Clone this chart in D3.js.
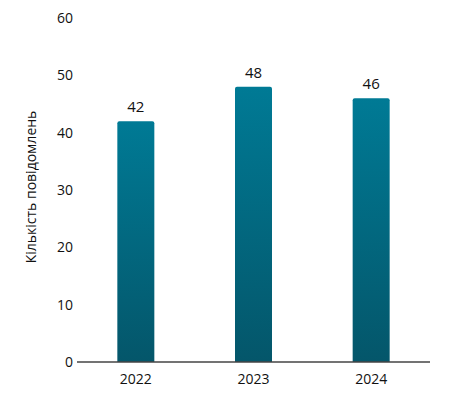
<!DOCTYPE html>
<html>
<head>
<meta charset="utf-8">
<script src="https://d3js.org/d3.v7.min.js"></script>
<style>
  body { margin: 0; background: #fff; }
  text { font-family: "Open Sans", "Noto Sans", sans-serif; fill: #111; }
</style>
</head>
<body>
<svg width="449" height="396"></svg>
<script>
var years = ["2022", "2023", "2024"];
var counts = [42, 48, 46];
var yTicks = [0, 10, 20, 30, 40, 50, 60];
var yTitle = "Кількість повідомлень";

var svg = d3.select("svg");
var marge = {left: 77, right: 19, top: 18, bottom: 34};
var W = 449, H = 396;

var x = d3.scaleBand().domain(years).range([marge.left, W - marge.right]).padding(0);
var y = d3.scaleLinear().domain([0, 60]).range([H - marge.bottom, marge.top]);
var barW = 37;

// gradient
var defs = svg.append("defs");
var grad = defs.append("linearGradient").attr("id", "barGrad")
  .attr("x1", 0).attr("y1", 0).attr("x2", 0).attr("y2", 1);
grad.append("stop").attr("offset", "0%").attr("stop-color", "#007a95");
grad.append("stop").attr("offset", "100%").attr("stop-color", "#04566a");

// bars
svg.selectAll("path.bar")
  .data(years)
  .enter()
  .append("path")
  .attr("class", "bar")
  .attr("fill", "url(#barGrad)")
  .attr("d", function(d, i) {
    var x0 = x(d) + x.bandwidth() / 2 - barW / 2;
    var y0 = y(counts[i]), y1 = y(0), r = 2;
    return "M" + x0 + "," + y1 + "V" + (y0 + r) + "Q" + x0 + "," + y0 + " " + (x0 + r) + "," + y0 +
      "H" + (x0 + barW - r) + "Q" + (x0 + barW) + "," + y0 + " " + (x0 + barW) + "," + (y0 + r) +
      "V" + y1 + "Z";
  });

// value labels
svg.selectAll("text.val")
  .data(years)
  .enter()
  .append("text")
  .attr("class", "val")
  .attr("x", function(d) { return x(d) + x.bandwidth() / 2; })
  .attr("y", function(d, i) { return y(counts[i]) - 9; })
  .attr("text-anchor", "middle")
  .style("font-size", "15px")
  .text(function(d, i) { return counts[i]; });

// baseline
svg.append("line")
  .attr("x1", marge.left).attr("x2", W - marge.right)
  .attr("y1", y(0)).attr("y2", y(0))
  .attr("stroke", "#444").attr("stroke-width", 1.3);

// y tick labels
svg.selectAll("text.ytick")
  .data(yTicks)
  .enter()
  .append("text")
  .attr("class", "ytick")
  .attr("x", 73)
  .attr("y", function(d) { return y(d); })
  .attr("dy", "0.35em")
  .attr("text-anchor", "end")
  .style("font-size", "14px")
  .text(function(d) { return d; });

// x tick labels
svg.selectAll("text.xtick")
  .data(years)
  .enter()
  .append("text")
  .attr("class", "xtick")
  .attr("x", function(d) { return x(d) + x.bandwidth() / 2; })
  .attr("y", y(0) + 22)
  .attr("text-anchor", "middle")
  .style("font-size", "14px")
  .text(function(d) { return d; });

// y title
svg.append("text")
  .attr("transform", "translate(36," + (y(30) - 3) + ") rotate(-90)")
  .attr("text-anchor", "middle")
  .style("font-size", "14px")
  .text(yTitle);
</script>
</body>
</html>
